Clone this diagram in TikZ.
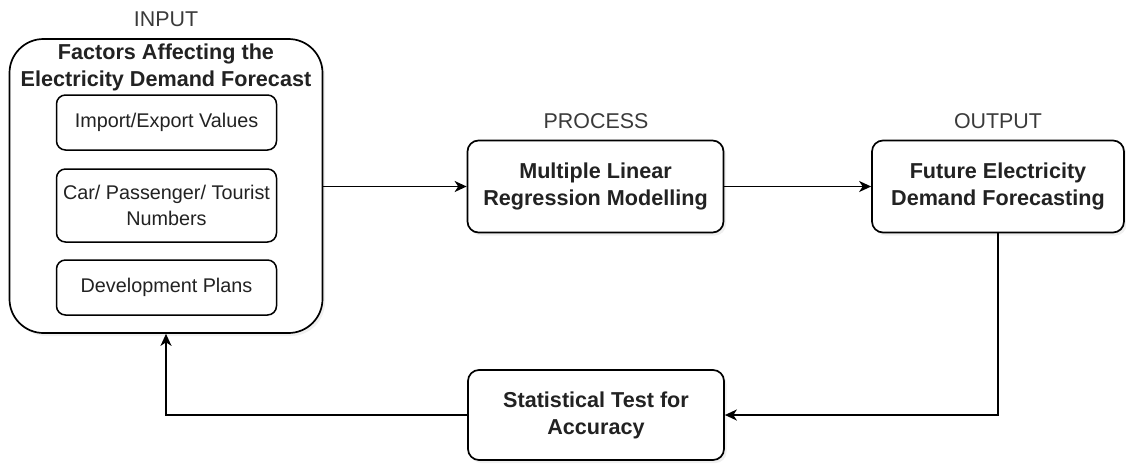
\documentclass[tikz,border=0pt]{standalone}
\usepackage{fontspec}
\setmainfont{Liberation Sans}
\usetikzlibrary{arrows.meta,shadows}
\definecolor{txt}{HTML}{222222}
\definecolor{lbl}{HTML}{3A3A3A}
\tikzset{
  box/.style={draw=black, line width=1.7pt, fill=white, rounded corners=11pt, align=center,
    text=txt, inner sep=0pt, drop shadow={opacity=0.12, shadow xshift=2.5pt, shadow yshift=-3pt}},
  bigbox/.style={box, rounded corners=34pt},
  innerbox/.style={draw=black, line width=1.5pt, fill=white, rounded corners=9pt, align=center,
    text=txt, inner sep=0pt, font=\fontsize{19.8}{26}\selectfont},
  boldtxt/.style={font=\fontsize{21.6}{27}\selectfont\bfseries},
  lbltxt/.style={text=lbl, font=\fontsize{21.4}{26}\selectfont},
  conn/.style={draw=black, line width=1.7pt, -{Stealth[length=12pt,width=11pt,inset=3.5pt]}}
}
\begin{document}
\begin{tikzpicture}[x=1pt,y=-1pt]
\useasboundingbox (0,0) rectangle (1126,463);
% input
\node[bigbox, minimum width=313pt, minimum height=294pt] (in) at (166,186) {};
\node[align=center, text=txt, boldtxt] (intitle) at (166,67) {Factors Affecting the\\Electricity Demand Forecast};
\node[innerbox, minimum width=220pt, minimum height=55pt] (f1) at (166.5,122.5) {Import/Export Values};
\node[innerbox, minimum width=220pt, minimum height=73pt] (f2) at (166.5,205.5) {Car/ Passenger/ Tourist\\Numbers};
\node[innerbox, minimum width=220pt, minimum height=55pt] (f3) at (166.5,287.5) {Development Plans};
\node[lbltxt] (inlbl) at (166,19) {INPUT};
% process
\node[box, boldtxt, minimum width=256pt, minimum height=92pt] (proc) at (595.5,186.5) {Multiple Linear\\Regression Modelling};
\node[lbltxt] (proclbl) at (596,121) {PROCESS};
% output
\node[box, boldtxt, minimum width=252pt, minimum height=92pt] (out) at (998,186.5) {Future Electricity\\Demand Forecasting};
\node[lbltxt] (outlbl) at (998,121) {OUTPUT};
% statistical test
\node[box, boldtxt, minimum width=256pt, minimum height=90pt] (stat) at (596,415) {Statistical Test for\\Accuracy};
% connectors
\draw[conn] (in.east |- proc.west) -- (proc.west);
\draw[conn] (proc.east) -- (out.west);
\draw[conn] (out.south) |- (stat.east);
\draw[conn] (stat.west) -| (in.south);
\end{tikzpicture}
\end{document}
